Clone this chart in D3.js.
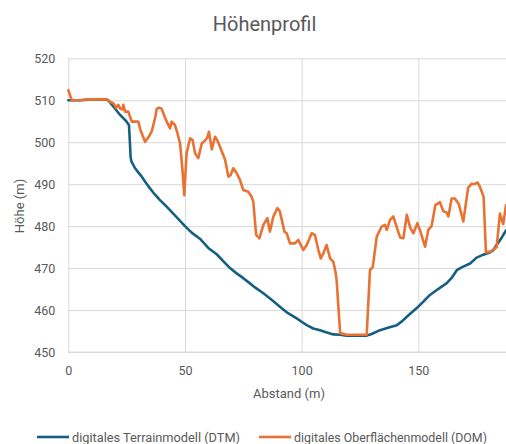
<!DOCTYPE html>
<html><head><meta charset="utf-8">
<script src="https://cdn.jsdelivr.net/npm/d3@7/dist/d3.min.js"></script>
<style>body{margin:0;background:#fff}svg{display:block}text{font-family:Roboto,"Open Sans",sans-serif}</style>
</head><body><svg id="c" width="506" height="444"></svg>
<script>
const title = "Höhenprofil";
const xLabel = "Abstand (m)";
const yLabel = "Höhe (m)";
const seriesNames = ["digitales Terrainmodell (DTM)", "digitales Oberflächenmodell (DOM)"];
const xTicks = [0, 50, 100, 150];
const yTicks = [450, 460, 470, 480, 490, 500, 510, 520];

const dtmDist = [0,5,10,16,17.1,19.3,22.2,25,26,26.4,26.7,27,28.6,30,31.5,33,35,37,39.3,41.5,43.6,46,48,50,53,56.4,60,63.6,66.5,69.3,72,75,78,80,83.6,87,90.7,94,97.9,100,102.2,105,107.9,110.5,113.6,116.5,119.3,124,127.9,130,133.6,137,140.8,143,145.1,147.5,150,152.5,155,158.5,162.2,164.5,166.5,169,172.2,175,177.9,180.5,182.2,183.6,185.8,187.6];
const dtmHeight = [510,510,510.2,510.2,510,508.5,506.5,504.9,504.1,500,496.5,495.5,493.8,492.8,491.8,490.5,489,487.6,486.2,485,483.8,482.4,481.2,480,478.4,477,474.8,473.3,471.6,470,468.8,467.6,466.3,465.4,464,462.5,460.8,459.3,458,457.2,456.4,455.6,455.2,454.7,454.2,454.1,453.9,453.9,453.9,454.3,455.2,455.8,456.4,457.3,458.4,459.6,460.8,462.2,463.6,465,466.4,467.8,469.5,470.3,471.1,472.5,473.2,473.7,474.3,475.5,477.3,479];

const domDist = [0,1.5,5,8,16.5,18,19.3,20.5,21.4,22.2,23.1,23.6,24.3,25.7,27.2,28.6,30,31,32.9,34.5,35.7,37.3,37.9,39,40,41,42.2,43.6,44.3,45.7,46.6,47.9,49,49.7,50.7,52.2,53.3,54.3,55.7,57.2,58.6,59.5,60.3,61.5,62.9,63.8,65,67.2,68.6,69.6,70.7,72.2,73.6,75,77.1,78.4,79.3,80.5,81.9,83.6,85.3,86.4,87.9,89.6,90.6,91.5,92.6,93.6,95,97.1,98.6,100.7,102.2,104.3,105.7,107.2,108.2,109.3,110.7,112.2,113.6,114.6,115,116.5,119.3,127.9,129.3,130.5,132.2,134.3,135.7,136.5,137.9,139.3,140.7,142.2,143.6,145.1,146.5,147.9,149.6,150.7,152.9,154.3,155.7,157.3,159.3,160.7,162.2,162.9,164.3,165.7,167.4,169.3,171.4,172.9,174,175.4,176.4,178,179,181.2,183.6,185,186.4,187.6];
const domHeight = [512.4,510,510,510.2,510.2,509.6,509.3,508.2,508.9,508,507.8,508.9,507.3,507.3,504.9,504.9,504.9,502.8,500.1,501.3,502.5,506,508,508.2,508,506.5,504.9,503.3,504.9,504.1,502.5,499.7,493,487.4,497.4,500.9,500.5,497.4,496.2,499.7,500.4,501,502.5,498.3,501.3,500.5,498.9,495.8,491.8,492.2,493.8,492.6,491,488.6,488.2,487.2,485.8,477.9,477.1,480.3,481.9,478.7,482.3,484.3,483.6,481.5,478.7,478.3,475.9,475.9,476.7,474.3,475.5,478.3,477.9,474.3,472.3,473.5,475.5,472.3,471.5,468.8,467.2,454.5,454.1,454.1,469.5,470.3,477.5,479.9,480.3,479.1,481.5,482.3,479.9,477.3,477.1,482.7,479.7,478.3,480.7,479.1,475.1,479.1,480,485,485.7,483.6,483.2,482.3,486.6,486.6,485.2,481.1,489.2,490.1,490,490.4,489.4,487,473.7,474,475,483,480.5,485];

const colors = ["#156082", "#E97132"];
const textColor = "#595959";
const gridColor = "#d9d9d9";

const svg = d3.select("#c");
const L = 68.3, R = 506, T = 58.3, B = 352;
const x = d3.scaleLinear().domain([0, 187.6]).range([L, R]);
const y = d3.scaleLinear().domain([450, 520]).range([B, T]);

svg.append("text").attr("x", 264.5).attr("y", 31).attr("text-anchor", "middle")
  .attr("fill", textColor).attr("font-size", 20).text(title);

const gy = svg.append("g").attr("transform", `translate(${L},0)`)
  .call(d3.axisLeft(y).tickValues(yTicks).tickSize(-(R - L)).tickPadding(13).tickFormat(d3.format("d")));
gy.select(".domain").remove();
gy.selectAll("line").attr("stroke", gridColor);
gy.selectAll("text").attr("fill", textColor).attr("font-size", 12.5);

const gx = svg.append("g").attr("transform", `translate(0,${B})`)
  .call(d3.axisBottom(x).tickValues(xTicks).tickSize(-(B - T)).tickPadding(14).tickFormat(d3.format("d")));
gx.select(".domain").remove();
gx.selectAll("line").attr("stroke", gridColor);
gx.selectAll("text").attr("fill", textColor).attr("font-size", 12.5);

svg.append("line").attr("x1", L).attr("x2", R).attr("y1", B).attr("y2", B).attr("stroke", gridColor);

svg.append("text").attr("x", 289).attr("y", 398).attr("text-anchor", "middle")
  .attr("fill", textColor).attr("font-size", 13).text(xLabel);
svg.append("text").attr("transform", "translate(24,206) rotate(-90)").attr("text-anchor", "middle")
  .attr("fill", textColor).attr("font-size", 13).text(yLabel);

svg.append("clipPath").attr("id", "clip").append("rect").attr("x", L - 2).attr("y", 0).attr("width", R - L + 4).attr("height", 444);

const line = d3.line().x(d => x(d[0])).y(d => y(d[1]));
const series = [d3.zip(dtmDist, dtmHeight), d3.zip(domDist, domHeight)];
svg.append("g").attr("clip-path", "url(#clip)").selectAll("path").data(series).join("path")
  .attr("d", line).attr("fill", "none").attr("stroke", (d, i) => colors[i])
  .attr("stroke-width", 2.6).attr("stroke-linejoin", "round").attr("stroke-linecap", "round");

const legX = [37, 259];
const legW = [168, 193];
const leg = svg.append("g");
seriesNames.forEach((n, i) => {
  leg.append("line").attr("x1", legX[i]).attr("x2", legX[i] + 32).attr("y1", 437).attr("y2", 437)
    .attr("stroke", colors[i]).attr("stroke-width", 2.6);
  leg.append("text").attr("x", legX[i] + 35).attr("y", 441.5).attr("fill", textColor)
    .attr("font-size", 12.5).attr("textLength", legW[i]).attr("lengthAdjust", "spacingAndGlyphs").text(n);
});
</script></body></html>
